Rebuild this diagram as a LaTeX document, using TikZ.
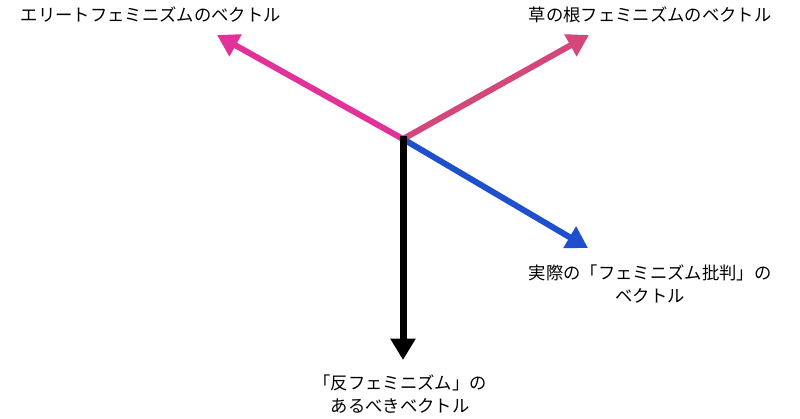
\documentclass[tikz,border=0pt]{standalone}
\usepackage{fontspec}
\usepackage{xcolor}
\newfontfamily\jpfont{Noto Sans CJK JP}
\usetikzlibrary{arrows.meta}
\definecolor{elitepink}{HTML}{E2329A}
\definecolor{grassrose}{HTML}{D3477B}
\definecolor{critblue}{HTML}{1E4FCC}

\begin{document}
\begin{tikzpicture}[x=0.75pt,y=-0.75pt,
    vec/.style={line width=4.5pt,-{Triangle[length=16pt,width=18pt]}},
    lbl/.style={font=\jpfont\fontsize{13}{17.5}\selectfont,align=center,inner sep=0pt}]
                \useasboundingbox (0,0) rectangle (800,418);
                \coordinate (o) at (403,139);
                \coordinate (eliteTip) at (217,35);
                \coordinate (grassTip) at (589,35);
                \coordinate (critTip) at (588,248);
                \coordinate (antiTip) at (403,360);
                \node[lbl] (eliteLbl) at (151,15) {エリートフェミニズムのベクトル};
                \node[lbl] (grassLbl) at (650,15) {草の根フェミニズムのベクトル};
                \node[lbl] (critLbl) at (650,284) {実際の「フェミニズム批判」の\\ベクトル};
                \node[lbl] (antiLbl) at (400,394) {「反フェミニズム」の\\あるべきベクトル};
                \draw[vec, elitepink] (o) -- (eliteTip);
                \draw[vec, grassrose] (o) -- (grassTip);
                \draw[vec, critblue] (o) -- (critTip);
                \draw[vec, black, line width=5.25pt, line cap=rect] (403,139) -- (antiTip);
            \end{tikzpicture}
\end{document}
